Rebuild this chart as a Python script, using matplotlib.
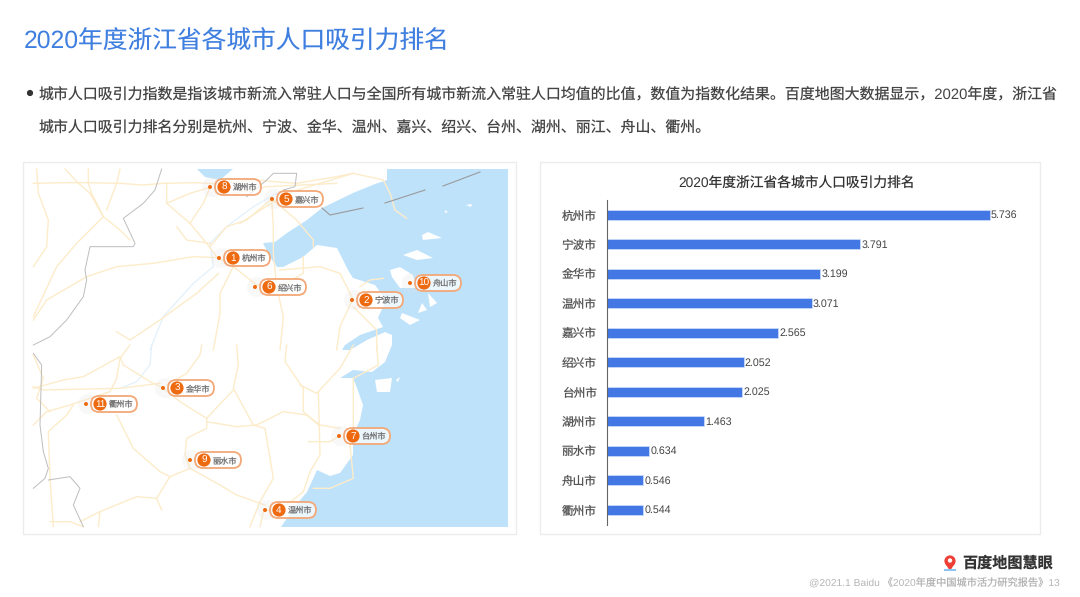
#!/usr/bin/env python3
"""2020 Zhejiang city population attraction ranking: map panel and bar panel."""
import matplotlib
matplotlib.use("Agg")
import matplotlib.pyplot as plt
from matplotlib.patches import Circle, FancyBboxPatch, Polygon, Rectangle

plt.rcParams["text.hinting"] = "none"

W, H = 1080, 597
SANS = ["Liberation Sans", "Noto Sans CJK SC", "DejaVu Sans"]
CJK = ["Noto Sans CJK SC", "DejaVu Sans"]

title = "2020年度浙江省各城市人口吸引力排名"
body_lines = [
    "城市人口吸引力指数是指该城市新流入常驻人口与全国所有城市新流入常驻人口均值的比值，数值为指数化结果。百度地图大数据显示，2020年度，浙江省",
    "城市人口吸引力排名分别是杭州、宁波、金华、温州、嘉兴、绍兴、台州、湖州、丽江、舟山、衢州。",
]
source = "@2021.1 Baidu 《2020年度中国城市活力研究报告》13"

cities = ["杭州市", "宁波市", "金华市", "温州市", "嘉兴市", "绍兴市", "台州市", "湖州市", "丽水市", "舟山市", "衢州市"]
scores = [5.736, 3.791, 3.199, 3.071, 2.565, 2.052, 2.025, 1.463, 0.634, 0.546, 0.544]
ranks = [1, 2, 3, 4, 5, 6, 7, 8, 9, 10, 11]
# pin position of each city on the map, in the same order (pixels)
pin_x = [219, 352, 163, 265, 272, 255, 339, 210, 190, 410, 86]
pin_y = [258, 300, 388, 510, 199, 287, 436, 187, 460, 283, 404]

sea = [(387, 169), (508, 169), (508, 527), (281, 527), (296, 505), (307, 492), (317, 470), (330, 476),
       (340, 473), (353, 455), (353, 435), (360, 420), (363, 405), (357, 388), (353, 378), (340, 378),
       (353, 370), (372, 372), (385, 362), (392, 345), (392, 335), (385, 332), (367, 340), (350, 350),
       (342, 350), (345, 345), (360, 335), (383, 327), (378, 318), (386, 300), (375, 285), (353, 278),
       (348, 270), (337, 248), (317, 245), (303, 257), (283, 267), (277, 267), (270, 257), (263, 243),
       (275, 242), (287, 233), (307, 220), (322, 208), (353, 193), (375, 184), (387, 180)]
islands = [
    [(390, 270), (400, 267), (413, 275), (417, 288), (400, 288), (392, 277)],
    [(403, 255), (417, 250), (433, 258), (417, 260)],
    [(422, 235), (428, 232), (442, 238), (423, 240)],
    [(402, 313), (420, 320), (410, 325), (400, 318)],
    [(428, 293), (437, 303), (430, 307)],
    [(422, 303), (427, 310), (418, 313)],
    [(375, 380), (392, 378), (390, 392), (377, 392)],
    [(396, 380), (400, 377), (398, 382)],
    [(466, 205), (472, 204), (471, 207)],
    [(445, 210), (448, 212), (445, 213)],
]
lake = [(197, 169), (205, 177), (220, 180), (233, 169)]

# map lines traced in crop units: top crop starts at (20, 160), bottom crop at (20, 345), scale 3
roads_top = [
    [(40, 70), (130, 68), (200, 68), (300, 70), (370, 75), (430, 70), (530, 68), (600, 72), (700, 60), (830, 70), (950, 50), (1000, 40), (1090, 60), (1110, 100), (1125, 150), (1160, 175)],
    [(50, 27), (55, 100), (85, 180), (80, 260), (40, 320)],
    [(135, 27), (170, 65), (210, 100), (250, 170), (300, 210), (330, 240)],
    [(205, 27), (205, 70), (215, 100), (250, 170), (170, 250), (110, 320), (40, 470)],
    [(300, 27), (290, 70), (260, 150)],
    [(40, 480), (80, 420), (200, 350), (290, 320), (400, 310), (520, 290), (596, 293)],
    [(570, 82), (550, 130), (510, 190), (560, 250), (590, 290), (640, 320), (710, 375), (780, 380)],
    [(755, 117), (680, 180), (620, 200), (570, 260)],
    [(755, 117), (760, 200), (760, 280), (770, 380), (790, 470), (780, 570)],
    [(640, 320), (600, 400), (600, 460), (580, 570)],
    [(596, 340), (530, 400), (420, 480), (330, 540), (290, 515)],
    [(755, 117), (830, 180), (880, 240), (880, 260)],
    [(850, 290), (850, 340), (780, 380)],
    [(780, 330), (900, 320), (960, 340), (1000, 420)],
    [(997, 420), (960, 500), (950, 570)],
    [(1000, 440), (1070, 510), (1070, 570)],
    [(1020, 380), (1050, 360), (1090, 355)],
    [(440, 130), (510, 100), (570, 82)],
    [(640, 100), (740, 80), (950, 70)],
    [(660, 190), (800, 100), (1000, 40)],
    [(440, 70), (440, 130), (510, 190)],
    [(470, 200), (500, 240), (570, 250)],
]
roads_bottom = [
    [(330, 0), (300, 40), (290, 100), (270, 140), (150, 180), (80, 200), (40, 240)],
    [(40, 130), (130, 105), (190, 95), (300, 35), (310, 60), (390, 110), (428, 128), (480, 170), (560, 220)],
    [(40, 125), (70, 135), (300, 130), (420, 115)],
    [(545, 0), (540, 30), (500, 85), (440, 120)],
    [(650, 0), (655, 60), (640, 130), (700, 240), (735, 250), (760, 400), (720, 470)],
    [(640, 135), (560, 220), (560, 250), (500, 280), (495, 330), (510, 370)],
    [(560, 230), (650, 245), (710, 240), (790, 200), (860, 210), (900, 240), (960, 250)],
    [(290, 210), (340, 310), (420, 380), (450, 395), (510, 370), (600, 420), (650, 450), (735, 480)],
    [(450, 395), (410, 460), (350, 455), (240, 500), (180, 530)],
    [(410, 460), (425, 495)],
    [(800, 0), (795, 50), (850, 130), (850, 200), (895, 240)],
    [(895, 140), (900, 330), (870, 380), (850, 440), (800, 480), (730, 500), (720, 545)],
    [(1000, 0), (960, 70), (890, 145), (840, 120)],
    [(1000, 100), (1000, 240), (990, 300), (1000, 400), (930, 430), (880, 430)],
    [(865, 290), (930, 290), (955, 275)],
    [(100, 545), (95, 470), (90, 400), (85, 260), (140, 210), (160, 180)],
    [(40, 30), (70, 100), (50, 160), (90, 200)],
    [(240, 500), (235, 545)],
    [(90, 530), (150, 530), (190, 545)],
    [(1070, 0), (1075, 60), (1000, 100)],
    [(690, 545), (720, 470)],
]
rivers_top = [
    [(390, 570), (430, 470), (520, 370), (580, 320)],
    [(580, 320), (570, 250), (620, 200), (700, 140), (770, 100)],
]
rivers_bottom = [[(395, 0), (390, 60), (350, 110), (300, 130)]]
borders_top = [
    [(425, 27), (405, 90), (370, 130), (310, 175), (345, 250), (340, 260), (210, 260), (195, 330), (200, 360), (190, 410), (140, 480), (90, 530), (40, 555)],
    [(680, 110), (740, 60), (760, 40), (830, 40), (825, 80), (790, 90)],
]
borders_bottom = [
    [(40, 25), (65, 60), (60, 240), (70, 320), (85, 370), (75, 400), (40, 430)],
    [(85, 405), (150, 395), (180, 430), (160, 480), (190, 545)],
]
sea_lines = [
    [(322, 208), (330, 215), (363, 208)],
    [(385, 203), (425, 190)],
    [(443, 186), (480, 172)],
]


def to_px(points, x0=0, y0=0, scale=1):
    return [p[0] / scale + x0 for p in points], [p[1] / scale + y0 for p in points]


fig = plt.figure(figsize=(W / 100, H / 100), dpi=100, facecolor="white")
page = fig.add_axes([0, 0, 1, 1])
page.set_xlim(0, W)
page.set_ylim(H, 0)
page.axis("off")

page.text(24, 42, title, color="#3f7fe0", fontsize=17.8, family=SANS, va="center", ha="left")
page.add_patch(Circle((30, 93), 2.4, color="#333333"))
page.text(39, 94.5, body_lines[0], color="#444444", fontsize=10.76, family=SANS, va="center")
page.text(39, 128.5, body_lines[1], color="#444444", fontsize=10.76, family=SANS, va="center")

# cards
for x0, x1 in ((23, 516), (540, 1040)):
    page.add_patch(Rectangle((x0, 162), x1 - x0, 372, fc="white", ec="#ececec", lw=1.0))

# map background
map_clip = Rectangle((33, 169), 475, 358, transform=page.transData)
page.add_patch(Polygon(sea, fc="#bfe2fb", ec="none", zorder=2))
for isl in islands:
    page.add_patch(Polygon(isl, fc="white", ec="none", zorder=2.1))
page.add_patch(Polygon(lake, fc="#bfe2fb", ec="none", zorder=2.1))
for group, y0, color, lw, z in ((rivers_top, 160, "#e2f1fc", 0.9, 2.2), (rivers_bottom, 345, "#e2f1fc", 0.9, 2.2),
                                (roads_top, 160, "#fdecca", 1.0, 2.3), (roads_bottom, 345, "#fdecca", 1.0, 2.3),
                                (borders_top, 160, "#bdbdbd", 0.7, 2.4), (borders_bottom, 345, "#bdbdbd", 0.7, 2.4)):
    for line in group:
        page.plot(*to_px(line, 20, y0, 3), color=color, lw=lw, zorder=z, solid_joinstyle="round", clip_path=map_clip)
for s in sea_lines:
    page.plot(*to_px(s), color="#9a9a9a", lw=0.8, zorder=2.4)

# city pins
for name, rank, px, py in zip(cities, ranks, pin_x, pin_y):
    page.add_patch(Circle((px + 2, py), 10, fc="#dddddd", ec="none", alpha=0.18, zorder=3))
    page.add_patch(Circle((px, py), 2.0, fc="#ee6a10", ec="none", zorder=4))
    page.add_patch(FancyBboxPatch((px + 5, py - 8), 46, 16, boxstyle="round,pad=0,rounding_size=8",
                                  fc=(1, 1, 1, 0.7), ec="#f3a878", lw=1.3, zorder=4))
    page.add_patch(Circle((px + 14, py), 6.6, fc="#ee6a10", ec="none", zorder=5))
    page.text(px + 14, py, str(rank), color="white", fontsize=7.2, family=SANS, ha="center", va="center", zorder=6)
    page.text(px + 22.5, py + 0.5, name, color="#777777", fontsize=5.9, family=CJK, ha="left", va="center", zorder=6)

# bar panel
bar_left, bar_right = 606.5, 1040
ax = fig.add_axes([bar_left / W, 1 - 524.5 / H, (bar_right - bar_left) / W, 324.5 / H])
ax.patch.set_alpha(0)
y_pos = list(range(len(cities)))
ax.barh(y_pos, scores, height=0.33, color="#4277e4", edgecolor="#cfe0fa", linewidth=0.5)
ax.set_ylim(len(cities) - 0.5, -0.5)
ax.set_xlim(0, (bar_right - bar_left) / 66.8)
ax.set_yticks(y_pos)
ax.set_yticklabels(cities, family=CJK, fontsize=8.4, color="#555555")
ax.tick_params(axis="y", length=0, pad=7)
ax.set_xticks([])
for side in ("top", "right", "bottom"):
    ax.spines[side].set_visible(False)
ax.spines["left"].set_color("#666666")
ax.spines["left"].set_linewidth(0.8)
for y, v in zip(y_pos, scores):
    ax.annotate(f"{v:.3f}", (v, y), xytext=(1.0, -0.3), textcoords="offset points", va="center",
                fontsize=7.7, color="#444444", family=SANS)
page.text(797, 184, title, color="#333333", fontsize=9.9, family=SANS, ha="center", va="center")

# logo and source
page.add_patch(Circle((950, 561), 5.6, fc="#ee3f35", ec="none"))
page.add_patch(Polygon([(945.5, 564), (954.5, 564), (950, 571)], fc="#ee3f35", ec="none"))
page.add_patch(Circle((950, 560.5), 2.2, fc="white", ec="none"))
page.add_patch(Rectangle((944, 569), 12, 2.2, fc="#8cc4f4", ec="none"))
page.text(962, 563, "百度地图慧眼", color="#333333", fontsize=10.9, family=CJK, weight="bold", va="center", ha="left")
page.text(1060, 583.5, source, color="#b5b5b5", fontsize=7.35, family=SANS, va="center", ha="right")

fig.savefig("out.png", dpi=100)
